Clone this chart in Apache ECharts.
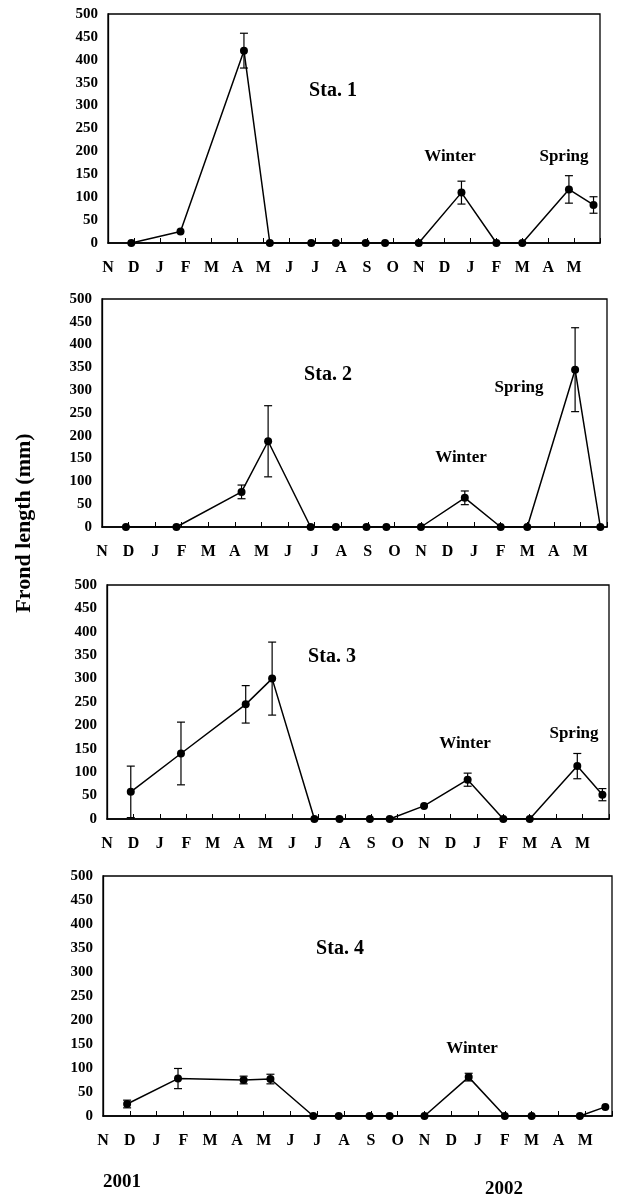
<!DOCTYPE html>
<html>
<head>
<meta charset="utf-8">
<script src="https://cdn.jsdelivr.net/npm/echarts@6/dist/echarts.min.js"></script>
<style>
  html, body { margin: 0; padding: 0; background: #fff; }
  #chart { width: 617px; height: 1196px; }
</style>
</head>
<body>
<div id="chart"></div>
<script>
// Month labels along the x axis, Nov 2000 .. May 2002 (one unit per month)
const monthLabels = ['N','D','J','F','M','A','M','J','J','A','S','O','N','D','J','F','M','A','M'];

// Sampling dates, expressed in months from the first N tick
const samplePos = [0.9, 2.8, 5.25, 6.25, 7.85, 8.8, 9.95, 10.7, 12.0, 13.65, 15.0, 16.0, 17.8, 18.75];

// Mean frond length (mm) and standard error for each station
const sta1 = [0, 25, 420, 0, 0, 0, 0, 0, 0, 110, 0, 0, 117, 83];
const err1 = [0, 0, 38, 0, 0, 0, 0, 0, 0, 25, 0, 0, 30, 18];
const sta2 = [0, 0, 77, 188, 0, 0, 0, 0, 0, 64, 0, 0, 345, 0];
const err2 = [0, 0, 15, 78, 0, 0, 0, 0, 0, 15, 0, 0, 92, 0];
const sta3 = [58, 140, 245, 300, 0, 0, 0, 0, 28, 84, 0, 0, 113, 52];
const err3 = [55, 67, 40, 78, 0, 0, 0, 0, 0, 14, 0, 0, 27, 13];
const sta4 = [25, 78, 75, 77, 0, 0, 0, 0, 0, 81, 0, 0, 0, 19];
const err4 = [8, 21, 8, 10, 0, 0, 0, 0, 0, 8, 0, 0, 0, 0];

const stations = [sta1, sta2, sta3, sta4];
const errors = [err1, err2, err3, err4];
const stationNames = ['Sta. 1', 'Sta. 2', 'Sta. 3', 'Sta. 4'];

const yTicks = [0, 50, 100, 150, 200, 250, 300, 350, 400, 450, 500];

const FONT = '"Liberation Serif", "Times New Roman", serif';

// Plot panels, stacked vertically
const grids = [
  { left: 108, right: 17, top: 14, height: 229 },
  { left: 102, right: 10, top: 299, height: 228 },
  { left: 107, right: 8, top: 585, height: 234 },
  { left: 103, right: 5, top: 876, height: 240 }
].map(g => Object.assign({ show: true, borderColor: '#000', borderWidth: 1.3, backgroundColor: 'transparent' }, g));

const xAxes = grids.map((g, i) => ({
  gridIndex: i,
  type: 'value',
  min: 0, max: 19, interval: 1,
  axisLine: { show: true, onZero: false, lineStyle: { color: '#000', width: 1.6 } },
  axisTick: { show: true, inside: true, length: 5, lineStyle: { color: '#000', width: 1 } },
  splitLine: { show: false },
  axisLabel: {
    color: '#000', fontFamily: FONT, fontWeight: 'bold', fontSize: 16, margin: 17,
    formatter: v => (Number.isInteger(v) && v < monthLabels.length) ? monthLabels[v] : ''
  }
}));

const yAxes = grids.map((g, i) => ({
  gridIndex: i,
  type: 'value',
  min: yTicks[0], max: yTicks[yTicks.length - 1], interval: yTicks[1] - yTicks[0],
  axisLine: { show: true, lineStyle: { color: '#000', width: 1.3 } },
  axisTick: { show: false },
  splitLine: { show: false },
  axisLabel: { color: '#000', fontFamily: FONT, fontWeight: 'bold', fontSize: 15, margin: 10 }
}));

const series = [];
stations.forEach((vals, i) => {
  const pts = samplePos.map((x, k) => [x, vals[k]]);
  series.push({
    type: 'line',
    xAxisIndex: i, yAxisIndex: i,
    data: pts,
    symbol: 'circle', symbolSize: 8,
    itemStyle: { color: '#000' },
    lineStyle: { color: '#000', width: 1.5 },
    z: 3
  });
  // Error bars: vertical whisker with caps
  const errData = samplePos.map((x, k) => [x, vals[k] - errors[i][k], vals[k] + errors[i][k]])
    .filter((d, k) => errors[i][k] > 0);
  series.push({
    type: 'custom',
    xAxisIndex: i, yAxisIndex: i,
    data: errData,
    encode: { x: 0, y: [1, 2] },
    z: 2,
    renderItem: (params, api) => {
      const lo = api.coord([api.value(0), api.value(1)]);
      const hi = api.coord([api.value(0), api.value(2)]);
      const cap = 4;
      const style = { stroke: '#000', lineWidth: 1.2 };
      return {
        type: 'group',
        children: [
          { type: 'line', shape: { x1: lo[0], y1: lo[1], x2: hi[0], y2: hi[1] }, style },
          { type: 'line', shape: { x1: lo[0] - cap, y1: lo[1], x2: lo[0] + cap, y2: lo[1] }, style },
          { type: 'line', shape: { x1: hi[0] - cap, y1: hi[1], x2: hi[0] + cap, y2: hi[1] }, style }
        ]
      };
    }
  });
});

function label(text, x, y, size, extra) {
  return Object.assign({
    type: 'text', x, y,
    style: {
      text, fill: '#000', font: 'bold ' + size + 'px ' + FONT,
      textAlign: 'center', textVerticalAlign: 'middle'
    }
  }, extra || {});
}

const graphics = [
  label(stationNames[0], 333, 91, 20),
  label(stationNames[1], 328, 375, 20),
  label(stationNames[2], 332, 657, 20),
  label(stationNames[3], 340, 949, 20),
  label('Winter', 450, 157, 17),
  label('Spring', 564, 157, 17),
  label('Winter', 461, 458, 17),
  label('Spring', 519, 388, 17),
  label('Winter', 465, 744, 17),
  label('Spring', 574, 734, 17),
  label('Winter', 472, 1049, 17),
  label('2001', 122, 1182, 19),
  label('2002', 504, 1189, 19),
  label('Frond length (mm)', 24, 523, 22, { rotation: Math.PI / 2 })
];

const chart = echarts.init(document.getElementById('chart'), null, { renderer: 'canvas' });
chart.setOption({
  backgroundColor: '#fff',
  animation: false,
  grid: grids,
  xAxis: xAxes,
  yAxis: yAxes,
  series,
  graphic: graphics
});
</script>
</body>
</html>
